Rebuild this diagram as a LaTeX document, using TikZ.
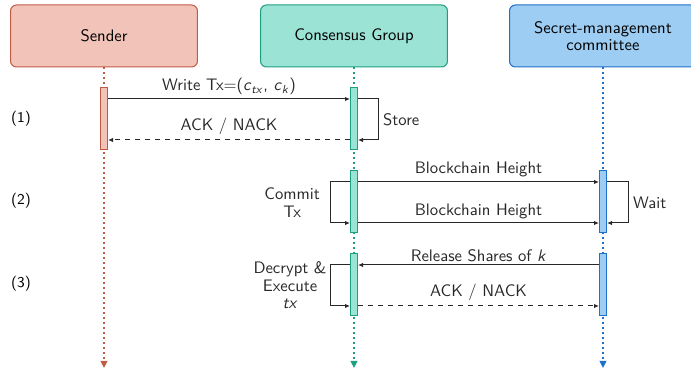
\documentclass[tikz,border=0pt]{standalone}
\usetikzlibrary{arrows.meta}
\renewcommand{\familydefault}{\sfdefault}
\definecolor{sendfill}{RGB}{242,196,185}
\definecolor{sendline}{RGB}{192,92,70}
\definecolor{consfill}{RGB}{155,227,212}
\definecolor{consline}{RGB}{30,160,128}
\definecolor{secfill}{RGB}{157,205,243}
\definecolor{secline}{RGB}{30,112,200}
\definecolor{msgline}{RGB}{40,40,40}
\begin{document}
\begin{tikzpicture}[x=0.6pt,y=0.6pt,yscale=-1,
	actor/.style={draw,rounded corners=3.6pt,line width=0.6pt,minimum width=112.2pt,minimum height=37.2pt,align=center,inner sep=1pt},
	bar/.style={draw,line width=0.6pt,minimum width=4.2pt,minimum height=37.2pt,inner sep=0pt},
	life/.style={line width=1.1pt,dash pattern=on 1.1pt off 1.9pt,-{Triangle[length=4.2pt,width=4pt]}},
	msg/.style={msgline,line width=0.6pt,-{Latex[length=3pt,width=2.6pt]}},
	lbl/.style={inner sep=0.75pt},
	]
	\clip (0,0) rectangle (691,371);
	
	% actors
	\node[actor,fill=sendfill,draw=sendline] (sender) at (104,36) {Sender};
	\node[actor,fill=consfill,draw=consline] (cons) at (354,36) {Consensus Group};
	\node[actor,fill=secfill,draw=secline] (sec) at (603,36) {Secret-management\\[-2pt]committee};
	
	% lifeline ends
	\coordinate (sendend) at (104,368);
	\coordinate (consend) at (354,368);
	\coordinate (secend) at (603,368);
	\draw[life,sendline] (sender.south) -- (sendend);
	\draw[life,consline] (cons.south) -- (consend);
	\draw[life,secline] (sec.south) -- (secend);
	
	% activation bars
	\node[bar,fill=sendfill,draw=sendline] (sbar) at (104,119) {};
	\node[bar,fill=consfill,draw=consline] (cbar1) at (354,119) {};
	\node[bar,fill=consfill,draw=consline] (cbar2) at (354,202) {};
	\node[bar,fill=consfill,draw=consline] (cbar3) at (354,285) {};
	\node[bar,fill=secfill,draw=secline] (kbar1) at (603,202) {};
	\node[bar,fill=secfill,draw=secline] (kbar2) at (603,285) {};
	
	% message rows
	\coordinate (r1a) at (0,99);
	\coordinate (r1b) at (0,140);
	\coordinate (r2a) at (0,182);
	\coordinate (r2b) at (0,223);
	\coordinate (r3a) at (0,265);
	\coordinate (r3b) at (0,306);
	\coordinate (loopr) at (378,0);
	\coordinate (loopl) at (330,0);
	\coordinate (loopk) at (628,0);
	
	% step (1)
	\draw[msg] (sbar.east |- r1a) -- node[lbl,above=1.5pt] (wtx) {Write Tx=(\textit{c}\textsubscript{\textit{tx}}, \textit{c}\textsubscript{\textit{k}})} (cbar1.west |- r1a);
	\draw[msg,dashed] (cbar1.west |- r1b) -- node[lbl,above=2pt] (ack1) {ACK / NACK} (sbar.east |- r1b);
	\draw[msg] (cbar1.east |- r1a) -- (loopr |- r1a) -- node[lbl,right=2pt] (store) {Store} (loopr |- r1b) -- (cbar1.east |- r1b);
	
	% step (2)
	\draw[msg] (cbar2.east |- r2a) -- node[lbl,above=2pt] (bh1) {Blockchain Height} (kbar1.west |- r2a);
	\draw[msg] (cbar2.east |- r2b) -- node[lbl,above=1.5pt] (bh2) {Blockchain Height} (kbar1.west |- r2b);
	\draw[msg] (cbar2.west |- r2a) -- (loopl |- r2a) -- node[lbl,left=5pt,align=center] (commit) {Commit\\[-1.5pt]Tx} (loopl |- r2b) -- (cbar2.west |- r2b);
	\draw[msg] (kbar1.east |- r2a) -- (loopk |- r2a) -- node[lbl,right=2pt] (wait) {Wait} (loopk |- r2b) -- (kbar1.east |- r2b);
	
	% step (3)
	\draw[msg] (kbar2.west |- r3a) -- node[lbl,above=1pt] (rel) {Release Shares of \textit{k}} (cbar3.east |- r3a);
	\draw[msg,dashed] (cbar3.east |- r3b) -- node[lbl,above=2pt] (ack2) {ACK / NACK} (kbar2.west |- r3b);
	\draw[msg] (cbar3.west |- r3a) -- (loopl |- r3a) -- node[lbl,left=1pt,align=center] (dec) {Decrypt \&\\[-1.5pt]Execute\\[-1.5pt]\textit{tx}} (loopl |- r3b) -- (cbar3.west |- r3b);
	
	% step numbers
	\node[lbl,font=\small] (s1) at (21,119) {(1)};
	\node[lbl,font=\small] (s2) at (21,201) {(2)};
	\node[lbl,font=\small] (s3) at (21,284) {(3)};
\end{tikzpicture}
\end{document}
